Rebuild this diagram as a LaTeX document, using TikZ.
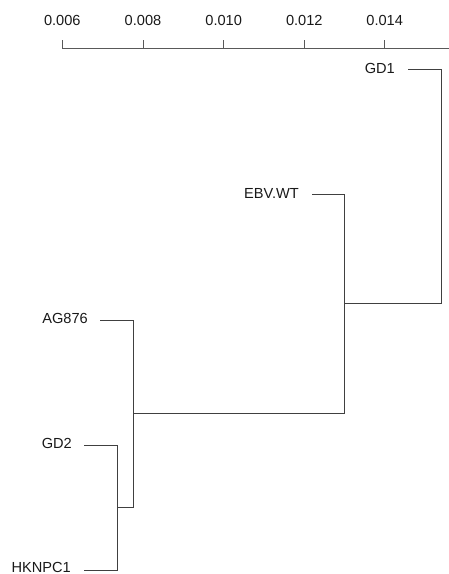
\documentclass[tikz,border=0pt]{standalone}
\usepackage{fontspec}
\setmainfont{Liberation Sans}
\begin{document}
\begin{tikzpicture}[x=1pt,y=-1pt,
  lbl/.style={anchor=east,inner sep=0pt,font=\fontsize{14.6}{16}\selectfont,text=black!90},
  tick/.style={anchor=center,inner sep=0pt,font=\fontsize{14.6}{16}\selectfont,text=black!90},
  branch/.style={draw=black!75,line width=0.9pt},
  axisline/.style={draw=black!65,line width=0.9pt}]
\useasboundingbox (0,0) rectangle (449,574);
% axis
\coordinate (a0) at (62.3,48);
\coordinate (aend) at (449,48);
\draw[axisline] (a0) -- (aend);
\foreach \xx/\t [count=\i] in {62.3/0.006,143/0.008,223.7/0.010,304.3/0.012,384.7/0.014}{
  \coordinate (tb\i) at (\xx,48);
  \coordinate (tt\i) at (\xx,39.5);
  \draw[axisline] (tb\i) -- (tt\i);
  \node[tick] (tl\i) at (\xx,20.5) {\t};
}
% leaf line starts
\coordinate (sGD1) at (408,69);
\coordinate (sEBV) at (312,194);
\coordinate (sAG) at (100,320);
\coordinate (sGD2) at (84,445);
\coordinate (sHK) at (84,570);
% leaf tips
\coordinate (tGD1) at (441,69);
\coordinate (tEBV) at (344,194);
\coordinate (tAG) at (133,320);
\coordinate (tGD2) at (117,445);
\coordinate (tHK) at (117,570);
% internal nodes
\coordinate (n1) at (117,507.5);
\coordinate (n1r) at (133,507.5);
\coordinate (n2) at (133,413.5);
\coordinate (n2r) at (344,413.5);
\coordinate (n3) at (344,303.5);
\coordinate (n3r) at (441,303.5);
% labels
\node[lbl] (GD1) at ([xshift=-13pt,yshift=1pt]sGD1) {GD1};
\node[lbl] (EBV) at ([xshift=-13pt,yshift=1pt]sEBV) {EBV.WT};
\node[lbl] (AG) at ([xshift=-12pt,yshift=1.5pt]sAG) {AG876};
\node[lbl] (GD2) at ([xshift=-12pt,yshift=1.5pt]sGD2) {GD2};
\node[lbl] (HK) at ([xshift=-13pt,yshift=3pt]sHK) {HKNPC1};
% branches
\draw[branch] (sGD1) -- (tGD1) -- (n3r);
\draw[branch] (sEBV) -- (tEBV) -- (n2r);
\draw[branch] (n3) -- (n3r);
\draw[branch] (sAG) -- (tAG) -- (n1r);
\draw[branch] (n2) -- (n2r);
\draw[branch] (sGD2) -- (tGD2) -- (tHK) -- (sHK);
\draw[branch] (n1) -- (n1r);
\end{tikzpicture}
\end{document}
